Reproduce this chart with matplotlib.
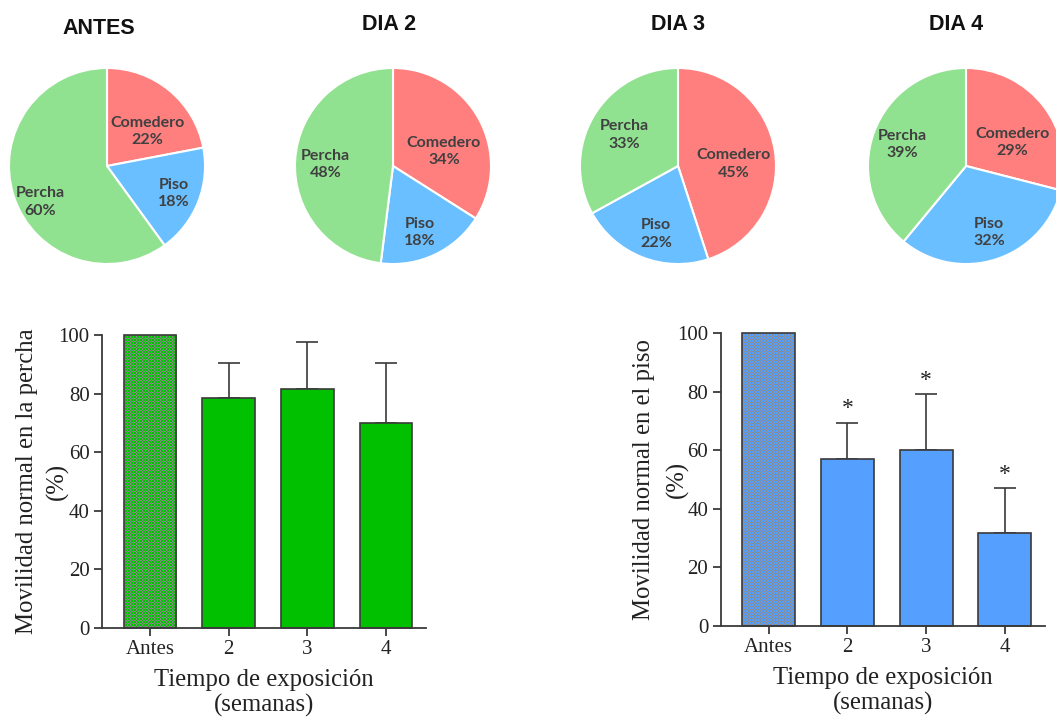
import numpy as np
import matplotlib
matplotlib.use("Agg")
import matplotlib.pyplot as plt

# ---- data -------------------------------------------------------------
pie_titles = ["ANTES", "DIA 2", "DIA 3", "DIA 4"]
pie_labels = ["Comedero", "Piso", "Percha"]
comedero = [22, 34, 45, 29]
piso = [18, 18, 22, 32]
percha = [60, 48, 33, 39]

bar_categories = ["Antes", "2", "3", "4"]
percha_mean = [100, 78.6, 81.6, 70.0]
percha_sd = [0, 11.7, 16.1, 20.3]
piso_mean = [100, 57.2, 60.0, 31.8]
piso_sd = [0, 12.3, 19.2, 15.4]
piso_signif = [False, True, True, True]

# ---- style / layout ---------------------------------------------------
W, H = 1056, 718
DPI = 100
pie_colors = ["#FF7F7F", "#69BFFF", "#91E290"]
# label placement per slice: (radius fraction, angular shift from slice middle in deg)
label_place = [
    [(0.54, -10), (0.74, -0.4), (0.77, 10.5)],
    [(0.54, -13), (0.73, -3.6), (0.69, 2.6)],
    [(0.57, -7), (0.73, 3.6), (0.63, 0.6)],
    [(0.53, -11), (0.72, 1.0), (0.69, 1.4)],
]
label_color = "#404040"
axis_color = "#3a3a3a"
text_color = "#222222"
serif = ["Liberation Serif", "DejaVu Serif"]

fig = plt.figure(figsize=(W / DPI, H / DPI), dpi=DPI)
fig.patch.set_facecolor("white")


def px_axes(cx, cy, r):
    """Square axes centred on pixel (cx, cy) with half-size r pixels."""
    return fig.add_axes([(cx - r) / W, (H - cy - r) / H, 2 * r / W, 2 * r / H])


# ---- pie charts -------------------------------------------------------
pie_centers = [(107, 166), (393, 166), (678, 166), (966, 166)]
title_pos = [(99, 28), (389, 25), (678, 25), (956, 25)]
R = 99
for i, title in enumerate(pie_titles):
    ax = px_axes(*pie_centers[i], R)
    vals = [comedero[i], piso[i], percha[i]]
    wedges, _ = ax.pie(vals, colors=pie_colors, startangle=90, counterclock=False,
                       radius=1.0, wedgeprops=dict(edgecolor="white", linewidth=1.5))
    ax.set_xlim(-1.01, 1.01)
    ax.set_ylim(-1.01, 1.01)
    ax.set_aspect("equal")
    ax.axis("off")
    for w, name, v, (d, shift) in zip(wedges, pie_labels, vals, label_place[i]):
        mid = np.deg2rad((w.theta1 + w.theta2) / 2 + shift)
        ax.text(d * np.cos(mid), d * np.sin(mid), f"{name}\n{v}%",
                ha="center", va="center", fontsize=11.5, fontweight="bold",
                family=["Lato", "DejaVu Sans"], color=label_color, linespacing=1.3)
    fig.text(title_pos[i][0] / W, 1 - title_pos[i][1] / H, title, ha="center", va="center",
             fontsize=15.5, fontweight="bold", family=["Liberation Sans", "DejaVu Sans"],
             color="#111111")


# ---- bar charts -------------------------------------------------------
def dotted_fill(ax, patch, base, dot="#8a8a8a", period=3):
    """Overlay a fine grey grid pattern inside a bar patch."""
    bb = patch.get_bbox()
    ext = patch.get_window_extent()
    wpx, hpx = int(round(ext.width)), int(round(ext.height))
    ii, jj = np.mgrid[0:hpx, 0:wpx]
    mask = ((ii % period == 0) ^ (jj % period == 0))
    img = np.empty((hpx, wpx, 3))
    img[:] = matplotlib.colors.to_rgb(base)
    img[mask] = matplotlib.colors.to_rgb(dot)
    im = ax.imshow(img, extent=[bb.x0, bb.x1, bb.y0, bb.y1], interpolation="nearest",
                   aspect="auto", zorder=2.5)
    im.set_clip_path(patch)
    ax.set_aspect("auto")


def bar_panel(rect, means, sds, color, ylabel, label_x, signif=None):
    ax = fig.add_axes(rect)
    x = np.arange(len(bar_categories))
    bars = ax.bar(x, means, width=0.67, color=color, edgecolor=axis_color,
                  linewidth=1.2, zorder=2, clip_on=False)
    ax.errorbar(x[1:], means[1:], yerr=[np.zeros(len(x) - 1), sds[1:]], fmt="none",
                ecolor=axis_color, elinewidth=1.2, capsize=8, capthick=1.2, zorder=1.5)
    ax.set_xlim(-0.61, 3.51)
    ax.set_ylim(0, 100)
    fig.canvas.draw()
    dotted_fill(ax, bars[0], color)
    bars[0].set_zorder(3)
    bars[0].set_facecolor("none")
    if signif is not None:
        for xi, m, s, sg in zip(x, means, sds, signif):
            if sg:
                ax.text(xi, m + s + 1.1, "*", ha="center", va="bottom", fontsize=17,
                        family=serif, color=text_color)
    ax.set_yticks(range(0, 101, 20))
    ax.set_xticks(x)
    ax.set_xticklabels(bar_categories)
    for s in ["top", "right"]:
        ax.spines[s].set_visible(False)
    for s in ["left", "bottom"]:
        ax.spines[s].set_color(axis_color)
        ax.spines[s].set_linewidth(1.3)
    ax.tick_params(axis="both", direction="out", length=6, width=1.3, color=axis_color,
                   labelsize=15, labelcolor=text_color, pad=3)
    for t in ax.get_xticklabels() + ax.get_yticklabels():
        t.set_family(serif)
    # two-line y label: title line and unit line, each centred on its own column
    for text, xpos in zip([ylabel, "(%)"], label_x):
        ax.text(xpos, 0.5, text, transform=ax.transAxes, rotation=90, ha="center",
                va="center", fontsize=17.8, family=serif, color=text_color)
    ax.set_xlabel("Tiempo de exposición\n(semanas)", fontsize=17.8, family=serif,
                  color=text_color, labelpad=7, linespacing=1.15)
    return ax


bar_panel([102 / W, (H - 628) / H, 324 / W, 293 / H], percha_mean, percha_sd,
          "#00C000", "Movilidad normal en la percha", label_x=(-0.231, -0.139))
bar_panel([720.7 / W, (H - 626) / H, 324.3 / W, 292.7 / H], piso_mean, piso_sd,
          "#559FFF", "Movilidad normal en el piso", label_x=(-0.237, -0.135),
          signif=piso_signif)

fig.savefig("out.png", dpi=DPI, facecolor="white")
